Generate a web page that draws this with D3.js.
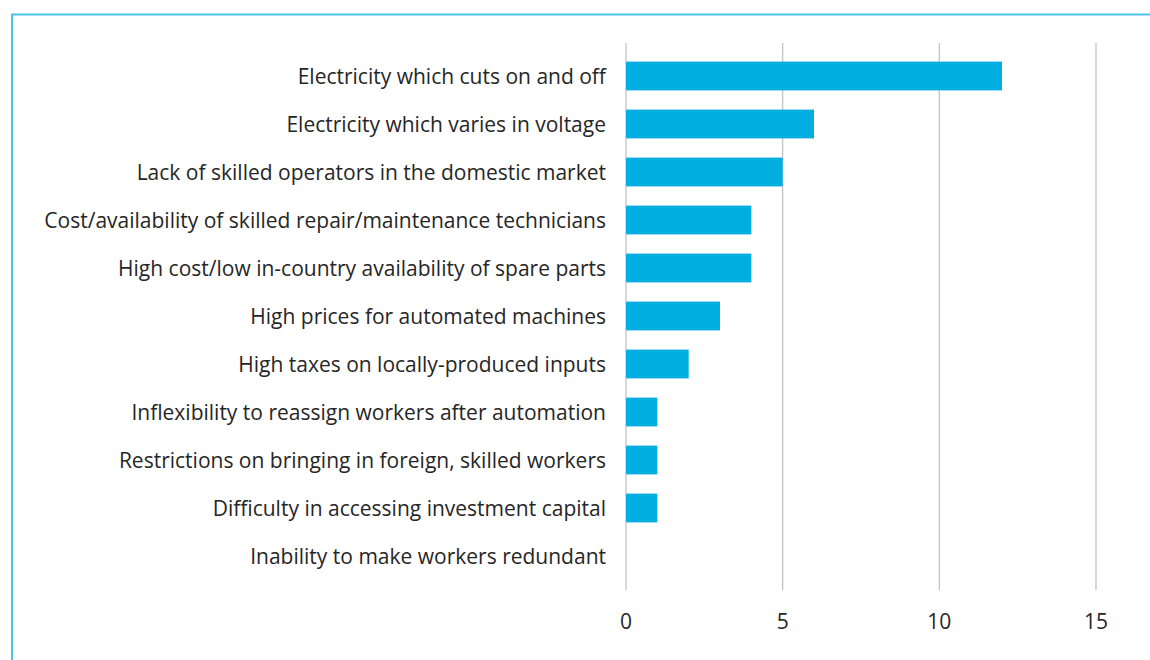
<!DOCTYPE html>
<html>
<head>
<meta charset="utf-8">
<script src="https://cdn.jsdelivr.net/npm/d3@7"></script>
<style>
  body { margin: 0; background: #fff; }
  text { font-family: "Open Sans", Lato, sans-serif; fill: #262626; }
</style>
</head>
<body>
<svg id="chart" width="1150" height="660"></svg>
<script>
// chart data
const categories = [
  "Electricity which cuts on and off",
  "Electricity which varies in voltage",
  "Lack of skilled operators in the domestic market",
  "Cost/availability of skilled repair/maintenance technicians",
  "High cost/low in-country availability of spare parts",
  "High prices for automated machines",
  "High taxes on locally-produced inputs",
  "Inflexibility to reassign workers after automation",
  "Restrictions on bringing in foreign, skilled workers",
  "Difficulty in accessing investment capital",
  "Inability to make workers redundant"
];
const values = [12, 6, 5, 4, 4, 3, 2, 1, 1, 1, 0];
const xTicks = [0, 5, 10, 15];

const svg = d3.select("#chart");

// light blue frame around the figure
svg.append("path")
  .attr("d", "M12,700 V14.5 H1160")
  .attr("fill", "none")
  .attr("stroke", "#4cc4ee")
  .attr("stroke-width", 2);

const x = d3.scaleLinear().domain([0, 15]).range([626, 1096]);
const y = d3.scaleBand().domain(categories).range([52, 580]).paddingInner(0.4).paddingOuter(0.2);

// vertical gridlines
svg.append("g")
  .selectAll("line")
  .data(xTicks)
  .enter()
  .append("line")
  .attr("x1", (d) => x(d))
  .attr("x2", (d) => x(d))
  .attr("y1", 43)
  .attr("y2", 590)
  .attr("stroke", "#bfbfbf")
  .attr("stroke-width", 1.2);

// bars
svg.append("g")
  .selectAll("rect")
  .data(values)
  .enter()
  .append("rect")
  .attr("x", x(0))
  .attr("y", (d, i) => y(categories[i]))
  .attr("width", (d) => x(d) - x(0))
  .attr("height", y.bandwidth())
  .attr("fill", "#00aee2");

// category labels
svg.append("g")
  .selectAll("text")
  .data(categories)
  .enter()
  .append("text")
  .attr("x", 606)
  .attr("y", (d) => y(d) + y.bandwidth() / 2)
  .attr("dy", "0.36em")
  .attr("text-anchor", "end")
  .style("font-size", "21px")
  .text((d) => d);

// x tick labels
svg.append("g")
  .selectAll("text")
  .data(xTicks)
  .enter()
  .append("text")
  .attr("x", (d) => x(d))
  .attr("y", 621)
  .attr("dy", "0.36em")
  .attr("text-anchor", "middle")
  .style("font-size", "21px")
  .text((d) => d);
</script>
</body>
</html>
